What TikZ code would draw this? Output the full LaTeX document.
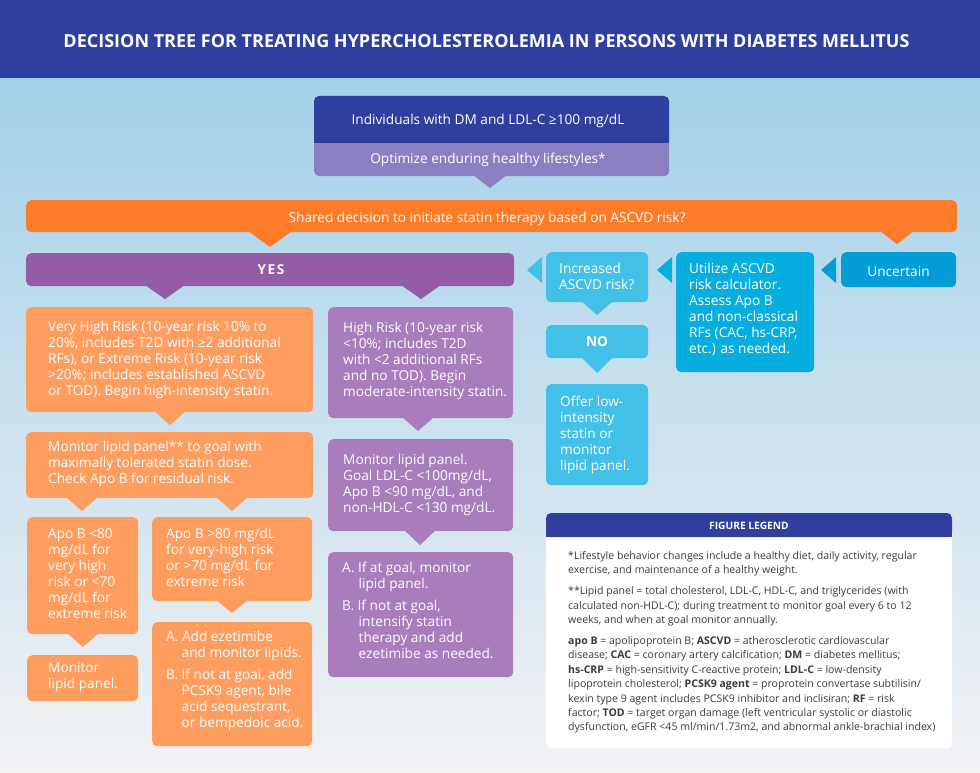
\documentclass[tikz,border=0pt]{standalone}
\usepackage{fontspec}
\setmainfont{Open Sans}
\definecolor{hdr}{HTML}{2F3F9E}
\definecolor{lav}{HTML}{8A7FC2}
\definecolor{org}{HTML}{FC7C2A}
\definecolor{yesp}{HTML}{945BA6}
\definecolor{lorg}{HTML}{FF9D5E}
\definecolor{lpur}{HTML}{A97CBB}
\definecolor{lblu}{HTML}{43C0E8}
\definecolor{mblu}{HTML}{05AEDF}
\definecolor{dblu}{HTML}{059DD6}
\definecolor{bgtop}{HTML}{A3D1E9}
\definecolor{bgmid}{HTML}{D3E6F0}
\definecolor{bgbot}{HTML}{F2F2F4}
\definecolor{legtxt}{HTML}{3A3A3A}
\newcommand{\pdown}[5]{\fill[#1] (#2-#5,#3) -- (#2+#5,#3) -- (#2,#4) -- cycle;}
\newcommand{\pleft}[5]{\fill[#1] (#3,#4-#5) -- (#3,#4+#5) -- (#2,#4) -- cycle;}
\begin{document}
\begin{tikzpicture}[x=1pt,y=-1pt,
  bx/.style={anchor=north west, inner sep=0pt, rounded corners=5pt, draw=none},
  tx/.style={anchor=north west, inner sep=0pt, align=left, text=white,
    font=\fontsize{13.65}{16}\selectfont, execute at begin node={\rule{0pt}{11pt}}},
  ct/.style={anchor=base, inner sep=0pt, text=white, font=\fontsize{13.65}{16}\selectfont},
  lt/.style={anchor=north west, inner sep=0pt, align=left, text=legtxt,
    font=\fontsize{10.55}{14.4}\selectfont, execute at begin node={\rule{0pt}{9pt}}}]
\useasboundingbox (0,0) rectangle (980,773);
% background
\shade[top color=bgtop, middle color=bgmid, bottom color=bgbot] (0,78) rectangle (980,773);
\fill[hdr] (0,0) rectangle (980,78);
\node[anchor=base, inner sep=0pt, text=white, font=\bfseries\fontsize{18}{21}\selectfont] (title) at (486.5,48)
  {DECISION TREE FOR TREATING HYPERCHOLESTEROLEMIA IN PERSONS WITH DIABETES MELLITUS};
% top box
\node[bx, fill=lav, minimum width=355pt, minimum height=80pt] (top) at (314,96) {};
\fill[hdr, rounded corners=5pt] (314,96) rectangle (669,143);
\fill[hdr] (314,130) rectangle (669,143);
\pdown{lav}{490}{175}{188}{17}
\node[ct] (top-a) at (488,125) {Individuals with DM and LDL-C ≥100 mg/dL};
\node[ct] (top-b) at (488,164) {Optimize enduring healthy lifestyles*};
% orange bar
\node[bx, fill=org, minimum width=931pt, minimum height=32pt] (shared) at (26,200) {};
\pdown{org}{270}{231}{247}{22}
\pdown{org}{897}{231}{244}{17}
\node[ct] (shared-t) at (487,222) {Shared decision to initiate statin therapy based on ASCVD risk?};
% YES bar
\node[bx, fill=yesp, minimum width=488pt, minimum height=33pt] (yes) at (26,253) {};
\pdown{yesp}{165}{285}{299}{20}
\pdown{yesp}{421}{285}{299}{20}
\node[ct, font=\bfseries\fontsize{13.65}{16}\selectfont\addfontfeature{LetterSpace=12}] (yes-t) at (271,274) {YES};
% right branch
\node[bx, fill=dblu, minimum width=115pt, minimum height=35pt] (unc) at (841,252) {};
\pleft{dblu}{821}{836}{270}{13}
\node[ct] (unc-t) at (898.5,276) {Uncertain};
\node[bx, fill=mblu, minimum width=138pt, minimum height=120pt] (util) at (676,252) {};
\pleft{mblu}{657}{672}{270}{13}
\node[tx] (util-t) at (689,263) {Utilize ASCVD\\risk calculator.\\Assess Apo B\\and non-classical\\RFs (CAC, hs-CRP,\\etc.) as needed.};
\node[bx, fill=lblu, minimum width=102pt, minimum height=50pt] (incr) at (546,252) {};
\pleft{lblu}{527}{542}{270}{13}
\pdown{lblu}{597}{301}{315}{16}
\node[tx] (incr-t) at (559,263) {Increased\\ASCVD risk?};
\node[bx, fill=lblu, minimum width=102pt, minimum height=33pt] (no) at (546,325) {};
\pdown{lblu}{597}{357}{373}{16}
\node[ct, font=\bfseries\fontsize{13.65}{16}\selectfont] (no-t) at (597,346) {NO};
\node[bx, fill=lblu, minimum width=102pt, minimum height=101pt] (offer) at (546,384) {};
\node[tx] (offer-t) at (560,396) {Offer low-\\intensity\\statin or\\monitor\\lipid panel.};
% orange column
\node[bx, fill=lorg, minimum width=287pt, minimum height=105pt] (vhr) at (26,307) {};
\pdown{lorg}{170}{411}{425}{16}
\node[tx] (vhr-t) at (48,321) {Very High Risk (10-year risk 10\% to\\20\%, includes T2D with ≥2 additional\\RFs), or Extreme Risk (10-year risk\\>20\%; includes established ASCVD\\or TOD). Begin high-intensity statin.};
\node[bx, fill=lorg, minimum width=287pt, minimum height=66pt] (mon1) at (26,432) {};
\pdown{lorg}{82}{497}{511}{16}
\pdown{lorg}{232}{497}{511}{16}
\node[tx] (mon1-t) at (48,441) {Monitor lipid panel** to goal with\\maximally tolerated statin dose.\\Check Apo B for residual risk.};
\node[bx, fill=lorg, minimum width=111pt, minimum height=117pt] (apolo) at (27,517) {};
\pdown{lorg}{83}{633}{647}{16}
\node[tx] (apolo-t) at (48,528) {Apo B <80\\mg/dL for\\very high\\risk or <70\\mg/dL for\\extreme risk};
\node[bx, fill=lorg, minimum width=111pt, minimum height=46pt] (mon2) at (27,655) {};
\node[tx] (mon2-t) at (48,662) {Monitor\\lipid panel.};
\node[bx, fill=lorg, minimum width=160pt, minimum height=84pt] (apohi) at (152,517) {};
\pdown{lorg}{232}{600}{613}{16}
\node[tx] (apohi-t) at (166,528) {Apo B >80 mg/dL\\for very-high risk\\or >70 mg/dL for\\extreme risk};
\node[bx, fill=lorg, minimum width=160pt, minimum height=124pt] (eze) at (152,622) {};
\node[tx] (eze-t) at (166,631) {A. Add ezetimibe\\\hspace*{15.5pt}and monitor lipids.\\[6pt]B. If not at goal, add\\\hspace*{15.5pt}PCSK9 agent, bile\\\hspace*{15.5pt}acid sequestrant,\\\hspace*{15.5pt}or bempedoic acid.};
% purple column
\node[bx, fill=lpur, minimum width=185pt, minimum height=111pt] (hr) at (328,307) {};
\pdown{lpur}{418}{417}{431}{16}
\node[tx] (hr-t) at (343,322) {High Risk (10-year risk\\<10\%; includes T2D\\with <2 additional RFs\\and no TOD). Begin\\moderate-intensity statin.};
\node[bx, fill=lpur, minimum width=185pt, minimum height=92pt] (mon3) at (328,439) {};
\pdown{lpur}{420}{530}{545}{16}
\node[tx] (mon3-t) at (343,454) {Monitor lipid panel.\\Goal LDL-C <100mg/dL,\\Apo B <90 mg/dL, and\\non-HDL-C <130 mg/dL.};
\node[bx, fill=lpur, minimum width=185pt, minimum height=125pt] (goal) at (328,552) {};
\node[tx] (goal-t) at (342,562) {A. If at goal, monitor\\\hspace*{16.5pt}lipid panel.\\[6pt]B. If not at goal,\\\hspace*{16.5pt}intensify statin\\\hspace*{16.5pt}therapy and add\\\hspace*{16.5pt}ezetimibe as needed.};
% legend
\node[bx, fill=white, minimum width=406pt, minimum height=235pt] (leg) at (546,513) {};
\fill[hdr, rounded corners=5pt] (546,513) rectangle (952,537);
\fill[hdr] (546,525) rectangle (952,537);
\node[anchor=base, inner sep=0pt, text=white, font=\bfseries\fontsize{10.2}{12}\selectfont] (leg-h) at (749,529) {FIGURE LEGEND};
\node[lt] (leg-t) at (568,551) {*Lifestyle behavior changes include a healthy diet, daily activity, regular\\exercise, and maintenance of a healthy weight.\\[6.6pt]**Lipid panel = total cholesterol, LDL-C, HDL-C, and triglycerides (with\\calculated non-HDL-C); during treatment to monitor goal every 6 to 12\\weeks, and when at goal monitor annually.\\[6.6pt]\textbf{apo B} = apolipoprotein B; \textbf{ASCVD} = atherosclerotic cardiovascular\\disease; \textbf{CAC} = coronary artery calcification; \textbf{DM} = diabetes mellitus;\\\textbf{hs-CRP} = high-sensitivity C-reactive protein; \textbf{LDL-C} = low-density\\lipoprotein cholesterol; \textbf{PCSK9 agent} = proprotein convertase subtilisin/\\kexin type 9 agent includes PCSK9 inhibitor and inclisiran; \textbf{RF} = risk\\factor; \textbf{TOD} = target organ damage (left ventricular systolic or diastolic\\dysfunction, eGFR <45 ml/min/1.73m2, and abnormal ankle-brachial index)};
\end{tikzpicture}
\end{document}
